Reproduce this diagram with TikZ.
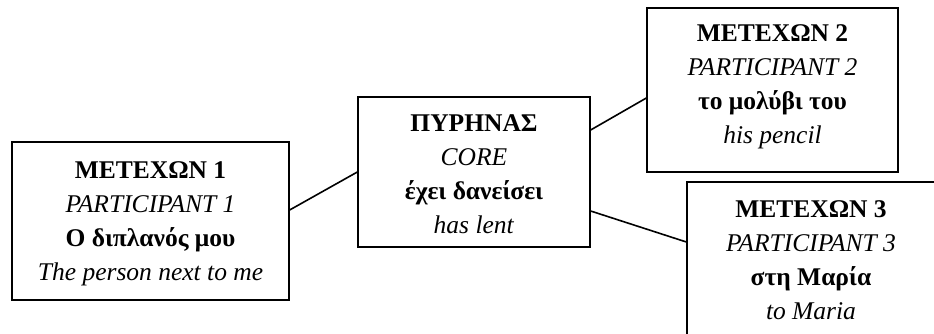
\documentclass[tikz,border=0pt]{standalone}
\usepackage{fontspec}
\setmainfont{Liberation Serif}
\begin{document}
\begin{tikzpicture}[x=1pt,y=-1pt,
  box/.style={draw=black,line width=1.3pt,rectangle,inner sep=0pt,fill=white},
  txt/.style={align=center,inner sep=0pt,anchor=north,font=\fontsize{25.5}{34}\selectfont},
  link/.style={draw=black,line width=1.6pt}]
\useasboundingbox (0,0) rectangle (934,334);
\begin{scope}
\clip (0,0) rectangle (934,334);
\node[box,minimum width=277pt,minimum height=158pt] (b1) at (150.5,221) {};
\node[box,minimum width=232pt,minimum height=150pt] (core) at (474,172) {};
\node[box,minimum width=251pt,minimum height=164pt] (b2) at (772.5,90) {};
\node[box,minimum width=248pt,minimum height=168pt] (b3) at (811,266) {};

\node[txt] (t1) at ([yshift=-20pt]b1.north) {\textbf{ΜΕΤΕΧΩΝ 1}\\ \textit{PARTICIPANT 1}\\ \textbf{Ο διπλανός μου}\\ \textit{The person next to me}};
\node[txt] (tc) at ([yshift=-18pt]core.north) {\textbf{ΠΥΡΗΝΑΣ}\\ \textit{CORE}\\ \textbf{έχει δανείσει}\\ \textit{has lent}};
\node[txt] (t2) at ([yshift=-17pt]b2.north) {\textbf{ΜΕΤΕΧΩΝ 2}\\ \textit{PARTICIPANT 2}\\ \textbf{το μολύβι του}\\ \textit{his pencil}};
\node[txt] (t3) at ([yshift=-19pt]b3.north) {\textbf{ΜΕΤΕΧΩΝ 3}\\ \textit{PARTICIPANT 3}\\ \textbf{στη Μαρία}\\ \textit{to Maria}};

\draw[link] ([yshift=11pt]b1.east) -- (core.west);
\draw[link] ([yshift=42pt]core.east) -- ([yshift=-8pt]b2.west);
\draw[link] ([yshift=-39pt]core.east) -- ([yshift=24pt]b3.west);
\end{scope}
\end{tikzpicture}
\end{document}
